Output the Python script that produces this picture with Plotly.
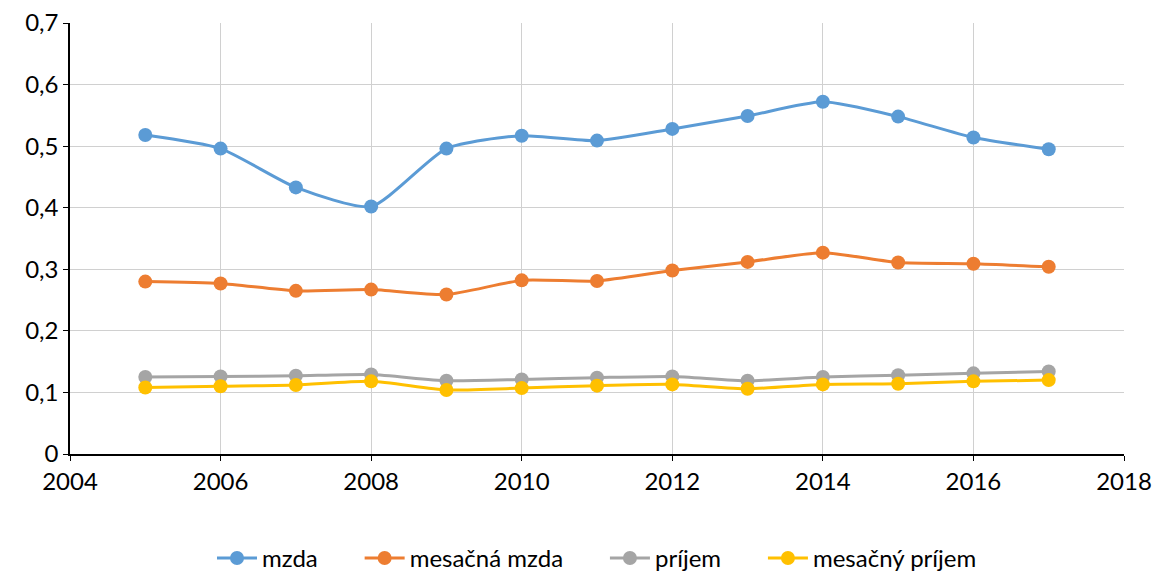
import plotly.graph_objects as go

roky = list(range(2005, 2018))
mzda = [0.518, 0.496, 0.433, 0.402, 0.496, 0.517, 0.509, 0.528, 0.549, 0.572, 0.548, 0.514, 0.495]
mesacna_mzda = [0.280, 0.277, 0.265, 0.267, 0.259, 0.282, 0.281, 0.298, 0.312, 0.327, 0.311, 0.309, 0.304]
prijem = [0.125, 0.126, 0.127, 0.129, 0.119, 0.121, 0.124, 0.126, 0.119, 0.125, 0.128, 0.131, 0.134]
mesacny_prijem = [0.108, 0.110, 0.112, 0.118, 0.104, 0.107, 0.111, 0.113, 0.106, 0.113, 0.114, 0.118, 0.120]
y_popisky = ["0", "0,1", "0,2", "0,3", "0,4", "0,5", "0,6", "0,7"]
y_hodnoty = [0, 0.1, 0.2, 0.3, 0.4, 0.5, 0.6, 0.7]

serie = [
    ("mzda", mzda, "#5B9BD5"),
    ("mesačná mzda", mesacna_mzda, "#ED7D31"),
    ("príjem", prijem, "#A5A5A5"),
    ("mesačný príjem", mesacny_prijem, "#FFC000"),
]

medzera = "\u00a0" * 6  # väčšie rozostupy v legende

fig = go.Figure()
for i, (nazov, hodnoty, farba) in enumerate(serie):
    fig.add_trace(
        go.Scatter(
            x=roky,
            y=hodnoty,
            name=nazov + (medzera if i < len(serie) - 1 else ""),
            mode="lines+markers",
            line=dict(color=farba, width=3, shape="spline", smoothing=0.6),
            marker=dict(color=farba, size=14),
        )
    )

fig.update_layout(
    width=1155,
    height=572,
    margin=dict(l=70, r=31, t=23, b=118, autoexpand=False),
    plot_bgcolor="white",
    paper_bgcolor="white",
    font=dict(family="Lato, Open Sans, sans-serif", size=24, color="black"),
    showlegend=True,
    legend=dict(
        orientation="h",
        x=0.5,
        xanchor="center",
        y=-0.19,
        yanchor="top",
        itemwidth=40,
        font=dict(size=24),
    ),
    xaxis=dict(
        range=[2004, 2018],
        dtick=2,
        tick0=2004,
        showgrid=True,
        gridcolor="#D0D0D0",
        showline=True,
        linecolor="black",
        linewidth=1.5,
        ticks="outside",
        ticklen=5,
        tickcolor="black",
        zeroline=False,
        automargin=False,
        ticklabeloverflow="allow",
    ),
    yaxis=dict(
        range=[0, 0.7],
        tickvals=y_hodnoty,
        ticktext=y_popisky,
        showgrid=True,
        gridcolor="#D0D0D0",
        showline=True,
        linecolor="black",
        linewidth=1.5,
        ticks="outside",
        ticklen=5,
        tickcolor="black",
        zeroline=False,
        automargin=False,
        ticklabeloverflow="allow",
    ),
)

fig.write_html(
    "out.html",
    config={"displayModeBar": False},
    post_script="document.body.style.margin = '0';",
)
